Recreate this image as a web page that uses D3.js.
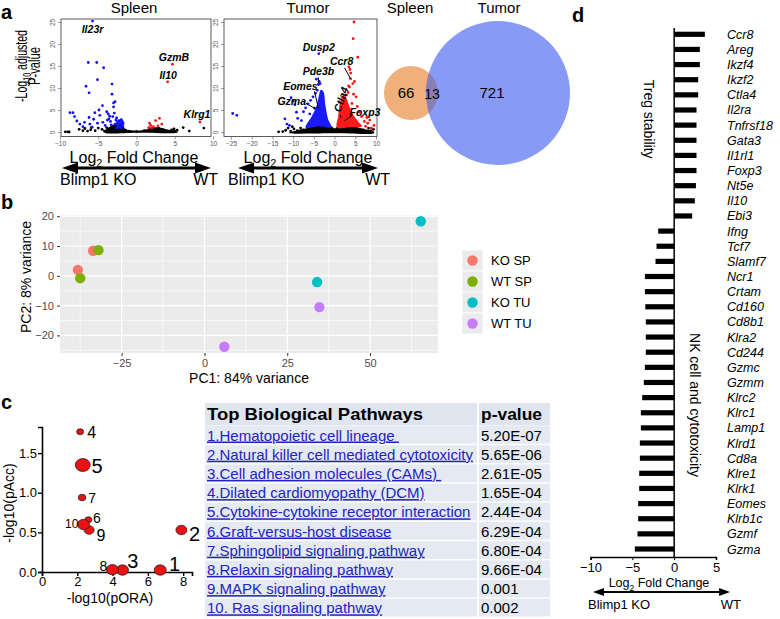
<!DOCTYPE html>
<html><head><meta charset="utf-8">
<script src="https://cdn.jsdelivr.net/npm/d3@7"></script>
<style>body{margin:0;background:#fff}svg{display:block}</style>
</head><body><svg id="fig" width="780" height="619"></svg>
<script>
// ================= DATA =================
const volcanoYTicks = [0, 5, 10, 15, 20, 25];
const spleenXTicks = [-10, -5, 0, 5, 10];
const tumorXTicks = [-25, -20, -15, -10, -5, 0, 5, 10];

const spleenUp = [[4.7,15.4],[4.07,11.4],[8.3,2.3],[2.5,2.6],[3.0,3.1],[3.3,1.8],[1.7,2.0],[1.85,1.5],[2.2,1.2],[2.8,1.4],[1.6,1.0],[2.0,0.9]];
const spleenDown = [[-5.75,25.2],[-6.3,15.8],[-5.2,15.8],[-4.3,14.6],[-5.1,11.9],[-6.6,10.4],[-6.2,8.9],[-3.2,10.9],[-3.2,8.6],[-3.0,6.6],[-2.8,6.9],
 [-8.7,4.4],[-8.3,4.4],[-8.1,3.5],[-7.8,2.5],[-7.4,1.8],[-6.1,1.8],[-6.2,3.3],[-5.45,4.4],[-4.9,5.0],[-4.45,6.0],[-4.8,3.8],[-3.9,4.6],[-3.7,4.1],[-3.5,3.6],[-3.0,5.7],[-3.1,3.5],[-2.7,2.7],[-2.5,2.3],[-2.3,2.6],[-2.1,2.0],[-2.0,2.8],[-1.9,1.6],[-3.3,1.6],[-3.8,2.7],[-5.1,2.0],[-6.8,2.2],[-5.6,2.9],[-4.4,2.2],[-2.8,1.8],[-2.4,1.4],[-2.2,1.7],[-1.8,2.2],[-3.4,2.4],[-4.1,1.5],[-2.6,3.2],[-7.0,1.2],[-5.8,1.1],[-2.9,4.3],[-3.6,3.0],[-2.5,1.9],[-2.05,1.2],
 [-2.0,1.0],[-1.8,1.3],[-2.3,1.1],[-2.6,0.9],[-1.9,2.5],[-2.2,2.3],[-1.75,1.8]];
const spleenNS = [[-9.3,0.05],[-9.0,0.05],[-8.8,0.0],[-7.5,0.6],[-7.0,0.3],[-6.75,0.8],[-6.0,0.5],[-5.4,0.3],[-5.0,0.9],[-4.5,0.6],[-4.2,0.2],[-3.9,1.0],[-5.9,1.0],[-6.4,0.2],[-1.4,0.4],[-1.0,0.2],[0,0.1],[1.0,0.3],[1.8,0.2],[4.6,0.5],[5.0,0.2],[5.3,0.4],[6.1,1.0],[6.9,0.2],[8.8,0.9],[4.9,0.7],[2.9,0.9]];
const spleenNSCloud = [[-4.2,-0.1],[-4.0,0.6],[-3.5,1.2],[-3.0,1.7],[-2.4,1.9],[-1.8,1.5],[-1.4,0.6],[-0.8,0.4],[0.8,0.4],[1.4,0.6],[1.9,1.0],[2.6,1.1],[3.4,0.9],[4.2,0.5],[5.0,0.3],[5.4,-0.1],[0,-0.15]];
const spleenLabels = [["Il23r",-5.75,25.2],["GzmB",4.7,15.4],["Il10",4.07,11.4],["Klrg1",8.3,2.3]];

const tumorUp = [[4.7,25.0],[4.5,21.2],[5.6,17.0],[3.46,14.8],[3.7,14.2],[3.9,13.4],[3.86,12.1],[4.8,11.5],[4.4,11.0],[3.4,10.5],[3.6,10.2],[2.9,8.4],[3.3,9.0],[5.2,8.0],[4.6,8.6],[8.5,2.7],[8.0,2.0],[9.5,1.5],[7.2,2.4],[6.5,3.5],[6.0,4.5],[5.5,5.8],[7.5,1.3],[4.2,6.5],[2.4,2.5],[1.45,3.0],[8.9,0.9],[7.8,3.3]];
const tumorDown = [[-3.8,17.8],[-3.9,10.8],[-3.7,11.5],[-24.6,4.2],[-23.6,3.8],[-11.5,1.8],[-10.9,1.5],[-10.5,7.8],[-10.0,7.0],[-9.6,6.2],[-8.9,3.1],[-7.5,4.6],[-7.0,5.5],[-6.4,6.4],[-5.8,7.2],[-5.2,8.0],[-4.6,8.8],[-4.2,9.5],[-12.0,3.0],[-8.0,2.6],[-9.2,4.5],[-6.0,4.1],[-3.9,5.4],[-4.8,5.4],[-4.4,12.0],[-3.5,11.0]];
const tumorNS = [[-13.5,0.05],[-12.5,0.1],[-11.8,0.4],[-10.6,0.2],[-9.8,0.7],[-9.0,0.3],[-8.2,0.9],[-7.6,0.5],[6.9,0.5],[8.2,0.9],[8.8,0.3],[9.4,0.6],[-11.2,0.9],[-10.2,1.2]];
const tumorDownCloud = [[-7.0,1.0],[-5.5,3.6],[-4.5,5.5],[-3.8,8.2],[-3.3,9.6],[-2.7,9.2],[-2.2,6.0],[-1.6,3.0],[-0.8,1.0],[-3.5,1.3]];
const tumorUpCloud = [[0.6,1.0],[0.9,3.8],[1.3,6.7],[1.9,8.2],[2.8,7.8],[3.5,6.0],[4.6,3.8],[5.8,2.3],[6.6,1.3],[3.5,1.1]];
const tumorNSCloud = [[-11,-0.2],[-9,0.4],[-7,0.8],[-5,1.3],[-3,1.7],[-1.5,1.7],[-0.6,1.2],[0,0.8],[0.6,1.2],[1.5,1.7],[3,1.5],[5,1.2],[7,0.7],[9.2,0.3],[9.6,-0.2],[0,-0.3]];
const tumorLabels = [["Dusp2",-3.8,17.8],["Ccr8",3.86,12.1],["Pde3b",-3.9,10.8],["Eomes",-3.9,5.4],["Gzma",-4.8,5.4],["Ctla4",1.45,3.0],["Foxp3",2.4,2.5]];

const vennSets = ["Spleen", "Tumor"];
const vennCounts = [66, 13, 721];

const pcaGroups = ["KO SP", "WT SP", "KO TU", "WT TU"];
const pcaPC1 = [[-38.2,-33.6],[-37.5,-32.0],[65.3,34.0],[34.7,6.0]];
const pcaPC2 = [[2.0,8.4],[-0.8,8.6],[18.3,-2.1],[-10.5,-23.8]];
const pcaXTicks = [-25, 0, 25, 50];
const pcaYTicks = [-20, -10, 0, 10, 20];

const pathwayNames = ["1.Hematopoietic cell lineage ","2.Natural killer cell mediated cytotoxicity","3.Cell adhesion molecules (CAMs) ","4.Dilated cardiomyopathy (DCM)","5.Cytokine-cytokine receptor interaction","6.Graft-versus-host disease","7.Sphingolipid signaling pathway","8.Relaxin signaling pathway","9.MAPK signaling pathway","10. Ras signaling pathway"];
const pathwayPValues = ["5.20E-07","5.65E-06","2.61E-05","1.65E-04","2.44E-04","6.29E-04","6.80E-04","9.66E-04","0.001","0.002"];
const pathwayPORA = [6.7, 7.9, 4.56, 2.16, 2.31, 2.63, 2.27, 3.99, 2.67, 2.35];
const pathwayPAcc = [0.025, 0.53, 0.025, 1.77, 1.35, 0.66, 0.94, 0.03, 0.53, 0.6];
const pathwayGeneCount = [36, 30, 36, 12, 56, 12, 14, 36, 25, 36];
const cXTicks = [0, 2, 4, 6, 8];
const cYTicks = [0, 0.5, 1.0, 1.5];

const geneNames = ["Ccr8","Areg","Ikzf4","Ikzf2","Ctla4","Il2ra","Tnfrsf18","Gata3","Il1rl1","Foxp3","Nt5e","Il10","Ebi3",
 "Ifng","Tcf7","Slamf7","Ncr1","Crtam","Cd160","Cd8b1","Klra2","Cd244","Gzmc","Gzmm","Klrc2","Klrc1","Lamp1","Klrd1","Cd8a","Klre1","Klrk1","Eomes","Klrb1c","Gzmf","Gzma"];
const geneLog2FC = [3.67,3.07,3.07,2.87,2.87,2.67,2.67,2.67,2.67,2.67,2.6,2.47,2.15,
 -1.91,-2.11,-2.23,-3.5,-3.5,-3.45,-3.39,-3.39,-3.39,-3.5,-3.63,-3.82,-3.98,-3.98,-4.1,-4.1,-4.18,-4.18,-4.3,-4.3,-4.38,-4.7];
const geneGroupNames = ["Treg stability", "NK cell and cytotoxicity"];
const geneGroupSizes = [13, 22];
const dXTicks = [-10, -5, 0, 5];

// ================= DRAWING =================
const F = "'Liberation Sans', Arial, Helvetica, sans-serif";
const svg = d3.select("#fig").attr("font-family", F);
svg.append("rect").attr("width", 780).attr("height", 619).attr("fill", "#fff");

function T(p, x, y, s, size, o = {}) {
  const t = p.append("text").attr("x", x).attr("y", y).attr("font-size", size).attr("fill", o.fill || "#000").text(s);
  if (o.anchor) t.attr("text-anchor", o.anchor);
  if (o.weight) t.attr("font-weight", o.weight);
  if (o.style) t.attr("font-style", o.style);
  if (o.rotate != null) t.attr("transform", `rotate(${o.rotate},${x},${y})`);
  return t;
}
function subText(p, x, y, parts, size, o = {}) {
  const t = p.append("text").attr("x", x).attr("y", y).attr("font-size", size).attr("text-anchor", o.anchor || "start");
  let shifted = false;
  parts.forEach(([s, sub]) => {
    const ts = t.append("tspan").text(s);
    if (sub) { ts.attr("font-size", size * 0.68).attr("dy", size * 0.28); shifted = true; }
    else if (shifted) { ts.attr("dy", -size * 0.28); shifted = false; }
  });
  return t;
}
function dblArrow(g, x1, x2, y, th, hl, hh) {
  g.append("line").attr("x1", x1 + hl - 1).attr("x2", x2 - hl + 1).attr("y1", y).attr("y2", y).attr("stroke", "#000").attr("stroke-width", th);
  g.append("path").attr("d", `M${x1},${y}L${x1 + hl},${y - hh / 2}L${x1 + hl},${y + hh / 2}Z`);
  g.append("path").attr("d", `M${x2},${y}L${x2 - hl},${y - hh / 2}L${x2 - hl},${y + hh / 2}Z`);
}

[["a", 1, 19], ["b", 1, 209], ["c", 1, 409], ["d", 572, 22]].forEach(([s, x, y]) => T(svg, x, y, s, 20, { weight: "bold" }));

function volcano(o) {
  const g = svg.append("g");
  const x = d3.scaleLinear().domain(o.xDom).range(o.xRange);
  const y = d3.scaleLinear().domain([0, 25]).range([132, 22]);
  const top = 19, bot = 136.5;
  const cloud = d3.line().x(d => x(d[0])).y(d => y(d[1])).curve(d3.curveCatmullRomClosed);
  const dots = (arr, col) => g.append("g").selectAll("circle").data(arr).join("circle")
      .attr("cx", d => x(d[0])).attr("cy", d => y(d[1])).attr("r", 1.4).attr("fill", col);
  g.append("path").datum(o.nsCloud).attr("d", cloud).attr("fill", "#000");
  dots(o.ns, "#000");
  if (o.downCloud) g.append("path").datum(o.downCloud).attr("d", cloud).attr("fill", "#1a1aff");
  if (o.upCloud) g.append("path").datum(o.upCloud).attr("d", cloud).attr("fill", "#ff1a1a");
  dots(o.down, "#1010ff");
  dots(o.up, "#ff1010");
  g.append("rect").attr("x", o.box[0]).attr("y", top).attr("width", o.box[1] - o.box[0]).attr("height", bot - top)
    .attr("fill", "none").attr("stroke", "#333").attr("stroke-width", 0.8);
  const xa = g.append("g").attr("transform", `translate(0,${bot})`)
    .call(d3.axisBottom(x).tickValues(o.xTicks).tickSize(3).tickPadding(2));
  xa.select(".domain").remove();
  xa.selectAll("line").attr("stroke", "#555").attr("stroke-width", 0.6);
  xa.selectAll("text").attr("font-size", 6.5).attr("fill", "#555").attr("font-family", F);
  const ya = g.append("g").attr("transform", `translate(${o.box[0]},0)`)
    .call(d3.axisLeft(y).tickValues(volcanoYTicks).tickSize(3));
  ya.select(".domain").remove();
  ya.selectAll("line").attr("stroke", "#555").attr("stroke-width", 0.6);
  ya.selectAll("text").attr("font-size", 6.5).attr("fill", "#555").attr("font-family", F)
    .attr("transform", "rotate(-90)").attr("x", 0).attr("y", -6).attr("dy", 0).attr("text-anchor", "middle");
  o.labels.forEach(([name, fc, p]) => {
    const st = o.labelStyle[name];
    const px = x(fc), py = y(p);
    if (st.line) g.append("line").attr("x1", px + st.line[0]).attr("y1", py + st.line[1]).attr("x2", px + st.line[2]).attr("y2", py + st.line[3])
      .attr("stroke", "#000").attr("stroke-width", 1);
    T(g, px + st.dx, py + st.dy, name, o.labelSize, { anchor: st.anchor || "middle", weight: "bold", style: "italic", rotate: st.rot });
  });
  T(g, o.titleX, 13, o.title, 15, { anchor: "middle" });
  subText(g, o.titleX, 163, [["Log", false], ["2", true], [" Fold Change", false]], 16, { anchor: "middle" });
  dblArrow(g, o.arrow[0], o.arrow[1], 168, 3, 16, 11);
  T(g, o.koX, 185, "Blimp1 KO", 16);
  T(g, o.wtX, 185, "WT", 16, { anchor: "end" });
}

volcano({
  title: "Spleen", titleX: 134, xDom: [-10, 10], xRange: [60, 213], box: [61, 211], xTicks: spleenXTicks,
  up: spleenUp, down: spleenDown, ns: spleenNS, nsCloud: spleenNSCloud, labels: spleenLabels, labelSize: 10.5,
  labelStyle: { Il23r: { dx: 0, dy: 12 }, GzmB: { dx: 1.5, dy: -3 }, Il10: { dx: 0.5, dy: -3 }, Klrg1: { dx: -3, dy: -4 } },
  arrow: [62, 211], koX: 60, wtX: 218
});
volcano({
  title: "Tumor", titleX: 308, xDom: [-25, 10], xRange: [231, 376], box: [224, 377], xTicks: tumorXTicks,
  up: tumorUp, down: tumorDown, ns: tumorNS, nsCloud: tumorNSCloud, upCloud: tumorUpCloud, downCloud: tumorDownCloud,
  labels: tumorLabels, labelSize: 10.5,
  labelStyle: {
    Dusp2: { dx: 0, dy: -3 },
    Ccr8: { dx: -9, dy: -14, line: [-6, -11, 0, 0] },
    Pde3b: { dx: 0, dy: -9, line: [0, -7, 0, -1] },
    Eomes: { dx: -18, dy: -18, line: [-4, -17, 0, 0] },
    Gzma: { dx: -23, dy: -3, line: [-9, -5, 0, 0] },
    Ctla4: { dx: 0, dy: -6, rot: -72, anchor: "start", line: [-1, -4, 1, -1] },
    Foxp3: { dx: 5, dy: -5, anchor: "start", line: [8, -6, 0, 0] }
  },
  arrow: [238, 378], koX: 228, wtX: 390
});
// shared y title for panel a (rotated; lengths fitted to the figure)
subText(svg, 27, 66, [["-Log", false], ["10", true], [" adjusted", false]], 16, { anchor: "middle" })
  .attr("transform", "rotate(-90,27,66)").attr("textLength", 72).attr("lengthAdjust", "spacingAndGlyphs");
T(svg, 40, 66, "P-value", 16, { anchor: "middle", rotate: -90 })
  .attr("textLength", 38).attr("lengthAdjust", "spacingAndGlyphs");

// ---------- Venn ----------
{
  const g = svg.append("g");
  const total = [vennCounts[0] + vennCounts[1], vennCounts[1] + vennCounts[2]];
  const r = d3.scalePow().exponent(0.44).domain([0, d3.max(total)]).range([0, 72]);
  const cy = 93, c1 = 411, c2 = 498;
  const r1 = r(total[0]), r2 = r(total[1]);
  g.append("circle").attr("cx", c1).attr("cy", cy).attr("r", r1).attr("fill", "#efb07c");
  g.append("circle").attr("cx", c2).attr("cy", cy).attr("r", r2).attr("fill", "#879bf6");
  svg.append("clipPath").attr("id", "vclip").append("circle").attr("cx", c1).attr("cy", cy).attr("r", r1);
  g.append("circle").attr("cx", c2).attr("cy", cy).attr("r", r2).attr("fill", "#8a7fb4").attr("clip-path", "url(#vclip)");
  T(g, 410, 13, vennSets[0], 15, { anchor: "middle" });
  T(g, 499, 13, vennSets[1], 15, { anchor: "middle" });
  T(g, 406, 98, vennCounts[0], 15, { anchor: "middle" });
  T(g, 432, 99, vennCounts[1], 14, { anchor: "middle" });
  T(g, 492, 98, vennCounts[2], 15, { anchor: "middle" });
}

// ---------- PCA ----------
{
  const g = svg.append("g");
  const L = 60, R = 438, TOP = 215, B = 353;
  const x = d3.scaleLinear().domain([-43.6, 70.5]).range([L, R]);
  const y = d3.scaleLinear().domain([-25.9, 20.4]).range([B, TOP]);
  const cols = ["#F8766D", "#7CAE00", "#00BFC4", "#C77CFF"];
  g.append("rect").attr("x", L).attr("y", TOP).attr("width", R - L).attr("height", B - TOP).attr("fill", "#ebebeb");
  const xMinor = [-37.5, -12.5, 12.5, 37.5, 62.5], yMinor = [-25, -15, -5, 5, 15];
  xMinor.forEach(v => g.append("line").attr("x1", x(v)).attr("x2", x(v)).attr("y1", TOP).attr("y2", B).attr("stroke", "#fff").attr("stroke-width", 0.6));
  yMinor.forEach(v => g.append("line").attr("y1", y(v)).attr("y2", y(v)).attr("x1", L).attr("x2", R).attr("stroke", "#fff").attr("stroke-width", 0.6));
  pcaXTicks.forEach(v => g.append("line").attr("x1", x(v)).attr("x2", x(v)).attr("y1", TOP).attr("y2", B).attr("stroke", "#fff").attr("stroke-width", 1.2));
  pcaYTicks.forEach(v => g.append("line").attr("y1", y(v)).attr("y2", y(v)).attr("x1", L).attr("x2", R).attr("stroke", "#fff").attr("stroke-width", 1.2));
  const xa = g.append("g").attr("transform", `translate(0,${B})`).call(d3.axisBottom(x).tickValues(pcaXTicks).tickSize(3).tickPadding(3));
  const ya = g.append("g").attr("transform", `translate(${L},0)`).call(d3.axisLeft(y).tickValues(pcaYTicks).tickSize(3).tickPadding(3));
  [xa, ya].forEach(a => { a.select(".domain").remove(); a.selectAll("line").attr("stroke", "#333"); a.selectAll("text").attr("font-size", 11).attr("fill", "#4d4d4d").attr("font-family", F); });
  pcaGroups.forEach((grp, i) => {
    pcaPC1[i].forEach((v, j) => g.append("circle").attr("cx", x(v)).attr("cy", y(pcaPC2[i][j])).attr("r", 5.2).attr("fill", cols[i]));
    const ky = 250 + i * 21;
    g.append("rect").attr("x", 462).attr("y", ky).attr("width", 21).attr("height", 21).attr("fill", "#ebebeb").attr("stroke", "#fff").attr("stroke-width", 0.8);
    g.append("circle").attr("cx", 472.5).attr("cy", ky + 10.5).attr("r", 5.2).attr("fill", cols[i]);
    T(g, 491, ky + 15, grp, 13);
  });
  T(g, 249, 383, "PC1: 84% variance", 14, { anchor: "middle" });
  T(g, 31, 277, "PC2: 8% variance", 14, { anchor: "middle", rotate: -90 });
}

// ---------- Pathway bubble ----------
{
  const g = svg.append("g");
  const x = d3.scaleLinear().domain([0, 8.5]).range([42, 192]);
  const y = d3.scaleLinear().domain([0, 1.83]).range([572, 427]);
  const r = d3.scaleSqrt().domain([0, d3.max(pathwayGeneCount)]).range([0, 7.5]);
  const xa = g.append("g").attr("transform", "translate(0,572)").call(d3.axisBottom(x).tickValues(cXTicks).tickSize(4).tickPadding(1).tickFormat(d3.format("d")));
  const ya = g.append("g").attr("transform", "translate(42,0)").call(d3.axisLeft(y).tickValues(cYTicks).tickSize(4).tickPadding(1).tickFormat(d3.format(".1f")));
  [xa, ya].forEach(a => { a.select(".domain").attr("stroke-width", 1.6); a.selectAll("line").attr("stroke-width", 1.4); a.selectAll("text").attr("font-size", 13).attr("fill", "#000").attr("font-family", F); });
  const lab = [[7, 1, 20], [6, 11, 20], [3, -2, 20], [6, 6, 16], [6.5, 8, 20], [3.5, 3, 14], [5, 5, 14], [-5, 1, 14, "end"], [6, 11, 16], [-5, 4, 12, "end"]];
  pathwayPORA.forEach((v, i) => {
    const cx = x(v), cy = y(pathwayPAcc[i]), rx = r(pathwayGeneCount[i]);
    g.append("ellipse").attr("cx", cx).attr("cy", cy).attr("rx", rx).attr("ry", rx * 0.86)
      .attr("fill", "#ee1111").attr("stroke", "#222").attr("stroke-width", 0.8);
    const [dx, dy, fs, an] = lab[i];
    T(g, cx + dx + (an ? 0 : rx * 0.3), cy + dy, String(i + 1), fs, { anchor: an || "start" });
  });
  T(g, 110, 603, "-log10(pORA)", 14, { anchor: "middle" });
  T(g, 14, 503, "-log10(pAcc)", 14, { anchor: "middle", rotate: -90 });
}

// ---------- Table ----------
{
  const g = svg.append("g");
  const x0 = 205, xs = 477, x1 = 550, hTop = 403, hH = 22.5, rTop = 426, rH = 19.2;
  g.append("rect").attr("x", x0).attr("y", hTop).attr("width", xs - x0).attr("height", hH).attr("fill", "#dfe5ef");
  g.append("rect").attr("x", xs + 2).attr("y", hTop).attr("width", x1 - xs - 2).attr("height", hH).attr("fill", "#dfe5ef");
  T(g, x0 + 2, hTop + 17, "Top Biological Pathways", 17, { weight: "bold" }).attr("textLength", 216).attr("lengthAdjust", "spacingAndGlyphs");
  T(g, xs + 4, hTop + 17, "p-value", 17, { weight: "bold" }).attr("textLength", 61).attr("lengthAdjust", "spacingAndGlyphs");
  pathwayNames.forEach((nm, i) => {
    const ty = rTop + i * rH;
    g.append("rect").attr("x", x0).attr("y", ty).attr("width", xs - x0).attr("height", rH - 1.5).attr("fill", "#e4e9f2");
    g.append("rect").attr("x", xs + 2).attr("y", ty).attr("width", x1 - xs - 2).attr("height", rH - 1.5).attr("fill", "#e4e9f2");
    T(g, x0 + 2, ty + 14.5, nm, 15, { fill: "#2323c0" }).attr("text-decoration", "underline").style("white-space", "pre");
    T(g, xs + 4, ty + 14.5, pathwayPValues[i], 15);
  });
}

// ---------- Panel d bars ----------
{
  const g = svg.append("g");
  const x = d3.scaleLinear().domain([-10, 5]).range([590.5, 716]);
  const y = d3.scalePoint().domain(geneNames).range([34.3, 549]);
  geneNames.forEach((gn, i) => {
    const v = geneLog2FC[i];
    g.append("rect").attr("x", x(Math.min(0, v))).attr("width", Math.abs(x(v) - x(0))).attr("y", y(gn) - 2.6).attr("height", 5.2).attr("fill", "#000");
    T(g, 727, y(gn) + 4.5, gn, 12.5, { style: "italic" });
  });
  g.append("line").attr("x1", x(0)).attr("x2", x(0)).attr("y1", 28).attr("y2", 557).attr("stroke", "#000").attr("stroke-width", 1.5);
  const xa = g.append("g").attr("transform", "translate(0,557)").call(d3.axisBottom(x).tickValues(dXTicks).tickSize(3).tickPadding(3).tickFormat(d3.format("d")));
  xa.select(".domain").attr("stroke-width", 1.5);
  xa.selectAll("text").attr("font-size", 13).attr("fill", "#000").attr("font-family", F);
  const g1 = y(geneNames[0]), g1e = y(geneNames[geneGroupSizes[0] - 1]);
  T(g, 644, (g1 + g1e) / 2 - 6, geneGroupNames[0], 14, { anchor: "middle", rotate: 90 });
  T(g, 690, 405, geneGroupNames[1], 14, { anchor: "middle", rotate: 90 });
  subText(g, 659, 587, [["Log", false], ["2", true], [" Fold Change", false]], 12.5, { anchor: "middle" });
  dblArrow(g, 593, 730, 592, 2, 11, 8);
  T(g, 588, 609, "Blimp1 KO", 13);
  T(g, 741, 609, "WT", 13, { anchor: "end" });
}
</script></body></html>
